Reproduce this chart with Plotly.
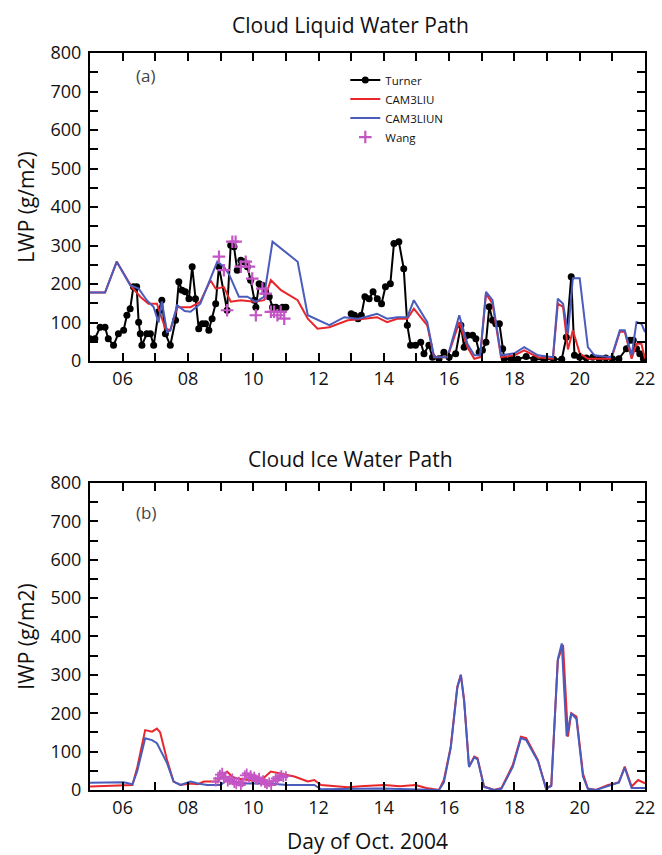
import plotly.graph_objects as go

# ---------------- Data (Day of Oct. 2004) ----------------
# Panel (a): Cloud liquid water path (g/m2)
turner_day = [5.00, 5.15, 5.31, 5.46, 5.56, 5.72, 5.87, 6.03, 6.13, 6.23, 6.33, 6.43, 6.49, 6.54, 6.59,
              6.74, 6.85, 6.95, 7.10, 7.20, 7.31, 7.46, 7.62, 7.72, 7.82, 7.92, 8.03, 8.13, 8.23, 8.33,
              8.44, 8.54, 8.64, 8.74, 8.85, 8.95, 9.20, 9.31, 9.41, 9.51, 9.62, 9.72, 9.82, 9.92, 10.03,
              10.08, 10.18, 10.28, 10.38, 10.49, 10.59, 10.69, 10.79, 10.90, 11.00,
              None,
              13.00, 13.10, 13.21, 13.31, 13.42, 13.55, 13.67, 13.80, 13.93, 14.05, 14.20, 14.31, 14.46,
              14.61, 14.72, 14.82, 14.97, 15.13, 15.23, 15.38, 15.49, 15.69, 15.84, 16.00, 16.20, 16.36,
              16.46, 16.56, 16.72, 16.82, 16.92, 17.02, 17.13, 17.23, 17.33, 17.43, 17.54, 17.64, 17.69,
              17.90, 18.10, 18.36, 18.60, 18.90, 19.20, 19.45, 19.59, 19.74, 19.84, 20.00, 20.20, 20.40,
              20.60, 20.80, 21.00, 21.20, 21.43, 21.54, 21.64, 21.74, 21.84, 21.95]
turner_lwp = [58, 58, 88, 88, 58, 41, 71, 80, 119, 136, 193, 193, 101, 71, 41,
              71, 71, 41, 128, 158, 71, 41, 106, 206, 184, 180, 162, 245, 162, 84,
              97, 97, 80, 110, 149, 245, 132, 301, 297, 236, 262, 258, 245, 210, 158,
              140, 201, 197, 180, 167, 140, 140, 136, 140, 140,
              None,
              123, 119, 110, 119, 167, 162, 180, 162, 149, 193, 201, 305, 310,
              240, 93, 41, 41, 49, 19, 41, 10, 6, 23, 10, 19, 93,
              36, 67, 67, 58, 23, 28, 49, 141, 106, 97, 97, 32, 6,
              5, 5, 12, 5, 5, 5, 5, 62, 219, 15, 10, 8, 10,
              6, 8, 6, 6, 32, 54, 54, 32, 19, 6]

liu_day = [5.00, 5.46, 5.82, 5.97, 6.28, 6.54, 6.79, 7.05, 7.31, 7.46, 7.67, 8.08, 8.38, 8.69, 8.85,
           9.10, 9.31, 9.62, 10.03, 10.33, 10.54, 10.85, 11.36, 11.67, 11.97, 12.33, 12.90, 13.41,
           13.79, 14.10, 14.41, 14.72, 14.92, 15.33, 15.54, 15.95, 16.31, 16.56, 16.77, 16.95, 17.13,
           17.33, 17.59, 18.00, 18.30, 18.72, 19.18, 19.33, 19.49, 19.64, 19.79, 20.00, 20.25, 20.97,
           21.23, 21.38, 21.59, 21.74, 21.89, 22.00]
liu_lwp = [178, 178, 258, 236, 192, 167, 149, 149, 84, 80, 140, 140, 154, 210, 188,
           192, 154, 158, 154, 158, 210, 184, 158, 110, 84, 88, 106, 110,
           114, 101, 110, 110, 136, 93, 10, 10, 101, 36, 6, 10, 175,
           149, 10, 15, 28, 10, 6, 149, 141, 30, 80, 20, 6, 6,
           76, 76, 6, 45, 45, 6]

liun_day = [5.00, 5.46, 5.82, 6.23, 6.49, 6.74, 6.95, 7.10, 7.20, 7.36, 7.46, 7.67, 7.90, 8.08, 8.38,
            8.90, 9.10, 9.26, 9.56, 9.82, 10.08, 10.33, 10.59, 11.36, 11.67, 12.33, 12.79, 13.20,
            13.41, 13.79, 14.10, 14.41, 14.72, 14.92, 15.33, 15.54, 15.95, 16.31, 16.56, 16.77, 16.95,
            17.13, 17.33, 17.59, 18.00, 18.30, 18.72, 19.18, 19.33, 19.49, 19.64, 19.79, 20.00, 20.25,
            20.45, 20.97, 21.23, 21.38, 21.59, 21.74, 21.89, 22.00]
liun_lwp = [178, 178, 258, 197, 188, 158, 140, 100, 155, 75, 80, 145, 130, 128, 149,
            258, 245, 225, 167, 167, 154, 167, 310, 258, 119, 93, 114, 110,
            114, 123, 110, 114, 114, 158, 101, 10, 10, 119, 45, 15, 15,
            180, 158, 15, 20, 36, 15, 10, 162, 149, 71, 215, 215, 36,
            15, 10, 80, 80, 15, 101, 97, 75]

wang_day = [8.95, 9.10, 9.20, 9.36, 9.46, 9.62, 9.77, 9.87, 9.97, 10.08, 10.28, 10.38, 10.54,
            10.64, 10.74, 10.84, 10.95]
wang_lwp = [271, 236, 132, 310, 310, 245, 258, 245, 214, 119, 188, 175, 128,
            128, 119, 128, 110]

# Panel (b): Cloud ice water path (g/m2)
liu_iday = [5.00, 6.03, 6.30, 6.45, 6.69, 6.90, 7.05, 7.15, 7.36, 7.56, 7.77, 8.08, 8.30, 8.49, 8.90,
            9.20, 9.35, 9.51, 9.82, 10.20, 10.54, 10.85, 11.26, 11.67, 11.87, 12.08, 12.90, 13.28,
            14.00, 14.50, 14.97, 15.30, 15.69, 15.84, 16.05, 16.25, 16.36, 16.46, 16.61, 16.77, 16.87,
            17.07, 17.38, 17.60, 17.95, 18.20, 18.36, 18.72, 18.97, 19.13, 19.33, 19.49, 19.64, 19.74,
            19.90, 20.10, 20.25, 20.50, 20.87, 21.07, 21.20, 21.38, 21.59, 21.79, 22.00]
liu_iwp = [9, 13, 13, 60, 156, 152, 160, 150, 78, 22, 13, 17, 15, 22, 22,
           48, 35, 30, 26, 22, 48, 43, 35, 22, 26, 13, 7, 10,
           13, 10, 13, 5, 0, 26, 113, 269, 300, 235, 61, 87, 83,
           9, 0, 5, 65, 139, 135, 78, 4, 13, 339, 378, 139, 200,
           191, 43, 4, 0, 13, 17, 20, 61, 9, 26, 17]

liun_iday = [5.00, 6.03, 6.30, 6.45, 6.69, 6.90, 7.05, 7.36, 7.56, 7.77, 8.08, 8.30, 8.59, 9.00, 9.20,
             9.62, 10.44, 11.05, 11.87, 12.08, 13.90, 15.69, 15.84, 16.05, 16.25, 16.36, 16.46, 16.61,
             16.77, 16.87, 17.07, 17.38, 17.60, 17.95, 18.20, 18.36, 18.72, 18.97, 19.13, 19.33, 19.45,
             19.60, 19.74, 19.90, 20.10, 20.25, 20.50, 20.87, 21.07, 21.20, 21.38, 21.59, 21.79, 22.00]
liun_iwp = [19, 20, 15, 50, 135, 130, 122, 70, 22, 13, 22, 17, 13, 13, 26,
            17, 17, 13, 13, 2, 4, 0, 20, 110, 265, 300, 230, 60,
            85, 80, 8, 0, 3, 60, 135, 130, 75, 3, 10, 340, 382,
            140, 200, 185, 35, 3, 0, 10, 15, 20, 58, 5, 5, 5]

wang_iday = [8.85, 8.92, 8.98, 9.05, 9.10, 9.15, 9.22, 9.28, 9.36, 9.42, 9.48, 9.56, 9.62, 9.67,
             9.74, 9.80, 9.87, 9.92, 9.97, 10.03, 10.08, 10.13, 10.18, 10.24, 10.30, 10.36, 10.42,
             10.49, 10.55, 10.62, 10.69, 10.75, 10.80, 10.86, 10.92, 11.00]
wang_iwp = [22, 30, 40, 45, 30, 35, 22, 26, 30, 18, 15, 22, 13, 20,
            38, 43, 32, 39, 30, 35, 28, 26, 32, 22, 26, 18, 15,
            20, 13, 24, 30, 26, 35, 39, 33, 36]

day_ticks = [6, 8, 10, 12, 14, 16, 18, 20, 22]
day_labels = ["06", "08", "10", "12", "14", "16", "18", "20", "22"]

# ---------------- Styles ----------------
RED = "#e8262b"
BLUE = "#4a5cbc"
MAG = "#c455c4"
FONT = "Open Sans"

fig = go.Figure()

fig.add_trace(go.Scatter(x=turner_day, y=turner_lwp, name="Turner", mode="lines+markers",
                         line=dict(color="black", width=2), marker=dict(color="black", size=7),
                         xaxis="x", yaxis="y", connectgaps=False))
fig.add_trace(go.Scatter(x=liu_day, y=liu_lwp, name="CAM3LIU", mode="lines",
                         line=dict(color=RED, width=2), xaxis="x", yaxis="y"))
fig.add_trace(go.Scatter(x=liun_day, y=liun_lwp, name="CAM3LIUN", mode="lines",
                         line=dict(color=BLUE, width=2), xaxis="x", yaxis="y"))
fig.add_trace(go.Scatter(x=wang_day, y=wang_lwp, name="Wang", mode="markers",
                         marker=dict(symbol="cross-thin", size=9, line=dict(color=MAG, width=2.2)),
                         xaxis="x", yaxis="y"))

fig.add_trace(go.Scatter(x=liu_iday, y=liu_iwp, name="CAM3LIU", mode="lines", showlegend=False,
                         line=dict(color=RED, width=2), xaxis="x2", yaxis="y2"))
fig.add_trace(go.Scatter(x=liun_iday, y=liun_iwp, name="CAM3LIUN", mode="lines", showlegend=False,
                         line=dict(color=BLUE, width=2), xaxis="x2", yaxis="y2"))
fig.add_trace(go.Scatter(x=wang_iday, y=wang_iwp, name="Wang", mode="markers", showlegend=False,
                         marker=dict(symbol="cross-thin", size=7, line=dict(color=MAG, width=1.8)),
                         xaxis="x2", yaxis="y2"))

axis_common = dict(showline=True, linewidth=2, linecolor="black", mirror="allticks",
                   ticks="inside", ticklen=8, tickwidth=1.5, tickcolor="black",
                   showgrid=False, zeroline=False, automargin=False,
                   tickfont=dict(family=FONT, size=18, color="#111"))

xcommon = dict(axis_common, range=[5, 22], tickmode="array", tickvals=day_ticks, ticktext=day_labels,
               minor=dict(tickmode="linear", tick0=5, dtick=1, ticks="inside", ticklen=8,
                          tickwidth=1.5, tickcolor="black", showgrid=False))
ycommon = dict(axis_common, range=[0, 800], tickmode="linear", tick0=0, dtick=100,
               minor=dict(tickmode="linear", tick0=0, dtick=50, ticks="inside", ticklen=8,
                          tickwidth=1.5, tickcolor="black", showgrid=False),
               ticklabelstandoff=3)

fig.update_layout(
    width=662, height=855,
    margin=dict(l=90, r=17, t=53, b=65),
    paper_bgcolor="white", plot_bgcolor="white",
    font=dict(family=FONT, color="#111"),
    xaxis=dict(xcommon, domain=[0, 1], anchor="y"),
    yaxis=dict(ycommon, domain=[0.582, 1], anchor="x",
               title=dict(text="LWP (g/m2)", font=dict(family=FONT, size=21), standoff=10)),
    xaxis2=dict(xcommon, domain=[0, 1], anchor="y2",
                title=dict(text="Day of Oct. 2004", font=dict(family=FONT, size=21), standoff=17)),
    yaxis2=dict(ycommon, domain=[0, 0.4166], anchor="x2",
                title=dict(text="IWP (g/m2)", font=dict(family=FONT, size=21), standoff=10)),
    legend=dict(x=0.46, y=0.983, xanchor="left", yanchor="top", bgcolor="rgba(0,0,0,0)",
                font=dict(family=FONT, size=11.5, color="#111"), tracegroupgap=0,
                itemwidth=30),
    showlegend=True,
    annotations=[
        dict(text="Cloud Liquid Water Path", x=0.47, y=1, xref="paper", yref="paper",
             xanchor="center", yanchor="bottom", yshift=12, showarrow=False,
             font=dict(family=FONT, size=21, color="#111")),
        dict(text="Cloud Ice Water Path", x=0.47, y=0.4166, xref="paper", yref="paper",
             xanchor="center", yanchor="bottom", yshift=8, showarrow=False,
             font=dict(family=FONT, size=21, color="#111")),
        dict(text="(a)", x=0.08, y=0.970, xref="paper", yref="paper", xanchor="left",
             yanchor="middle", showarrow=False, font=dict(family=FONT, size=17, color="#444")),
        dict(text="(b)", x=0.08, y=0.377, xref="paper", yref="paper", xanchor="left",
             yanchor="middle", showarrow=False, font=dict(family=FONT, size=17, color="#444")),
    ],
)

fig.write_html("out.html")
